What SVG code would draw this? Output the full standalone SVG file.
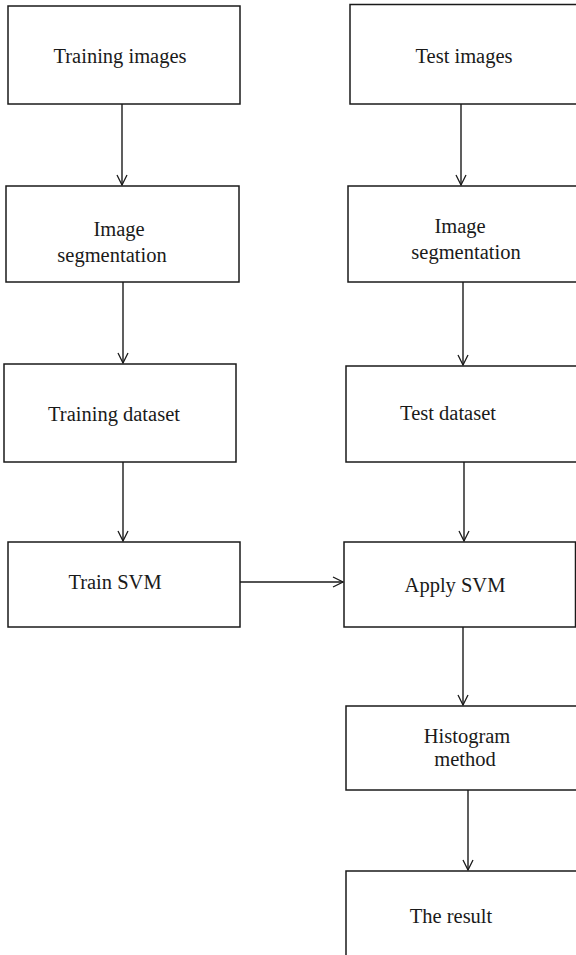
<svg xmlns="http://www.w3.org/2000/svg" width="576" height="955" viewBox="0 0 576 955">
<style>
.box{fill:#fff;stroke:#1a1a1a;stroke-width:1.5}
.t{font-family:"Liberation Serif","DejaVu Serif",serif;font-size:20.5px;fill:#1a1a1a;text-anchor:middle}
.c{fill:none;stroke:#1a1a1a;stroke-width:1.4}
</style>
<defs>
<marker id="ah" viewBox="0 0 12 12" refX="11" refY="6" markerWidth="12" markerHeight="12" markerUnits="userSpaceOnUse" orient="auto">
<path d="M1,1 L11,6 L1,11" fill="none" stroke="#1a1a1a" stroke-width="1.3"/>
</marker>
</defs>
<rect width="576" height="955" fill="#fff"/>
<g id="training-images"><rect class="box" x="8" y="6" width="232" height="98"/><text class="t" x="120" y="63">Training images</text></g>
<g id="test-images"><rect class="box" x="350" y="4.5" width="240" height="99.5"/><text class="t" x="464" y="63">Test images</text></g>
<g id="image-seg-left"><rect class="box" x="6" y="186" width="233" height="96"/><text class="t" x="119" y="236">Image</text><text class="t" x="112" y="262">segmentation</text></g>
<g id="image-seg-right"><rect class="box" x="348" y="186" width="240" height="96"/><text class="t" x="460" y="233">Image</text><text class="t" x="466" y="259">segmentation</text></g>
<g id="training-dataset"><rect class="box" x="4" y="364" width="232" height="98"/><text class="t" x="114" y="421">Training dataset</text></g>
<g id="test-dataset"><rect class="box" x="346" y="366" width="240" height="96"/><text class="t" x="448" y="420">Test dataset</text></g>
<g id="train-svm"><rect class="box" x="8" y="542" width="232" height="85"/><text class="t" x="115" y="589">Train SVM</text></g>
<g id="apply-svm"><rect class="box" x="344" y="542" width="231.5" height="85"/><text class="t" x="455" y="592">Apply SVM</text></g>
<g id="histogram"><rect class="box" x="346" y="706" width="240" height="84"/><text class="t" x="467" y="743">Histogram</text><text class="t" x="465" y="766">method</text></g>
<g id="result"><rect class="box" x="346" y="871" width="240" height="100"/><text class="t" x="451" y="923">The result</text></g>
<g id="connectors">
<line class="c" x1="122" y1="104" x2="122" y2="185" marker-end="url(#ah)"/>
<line class="c" x1="461" y1="104" x2="461" y2="185" marker-end="url(#ah)"/>
<line class="c" x1="123" y1="282" x2="123" y2="363" marker-end="url(#ah)"/>
<line class="c" x1="463" y1="282" x2="463" y2="365" marker-end="url(#ah)"/>
<line class="c" x1="123" y1="462" x2="123" y2="541" marker-end="url(#ah)"/>
<line class="c" x1="464" y1="462" x2="464" y2="541" marker-end="url(#ah)"/>
<line class="c" x1="240" y1="582" x2="343" y2="582" marker-end="url(#ah)"/>
<line class="c" x1="463" y1="627" x2="463" y2="705" marker-end="url(#ah)"/>
<line class="c" x1="468" y1="790" x2="468" y2="870" marker-end="url(#ah)"/>
</g>
</svg>
